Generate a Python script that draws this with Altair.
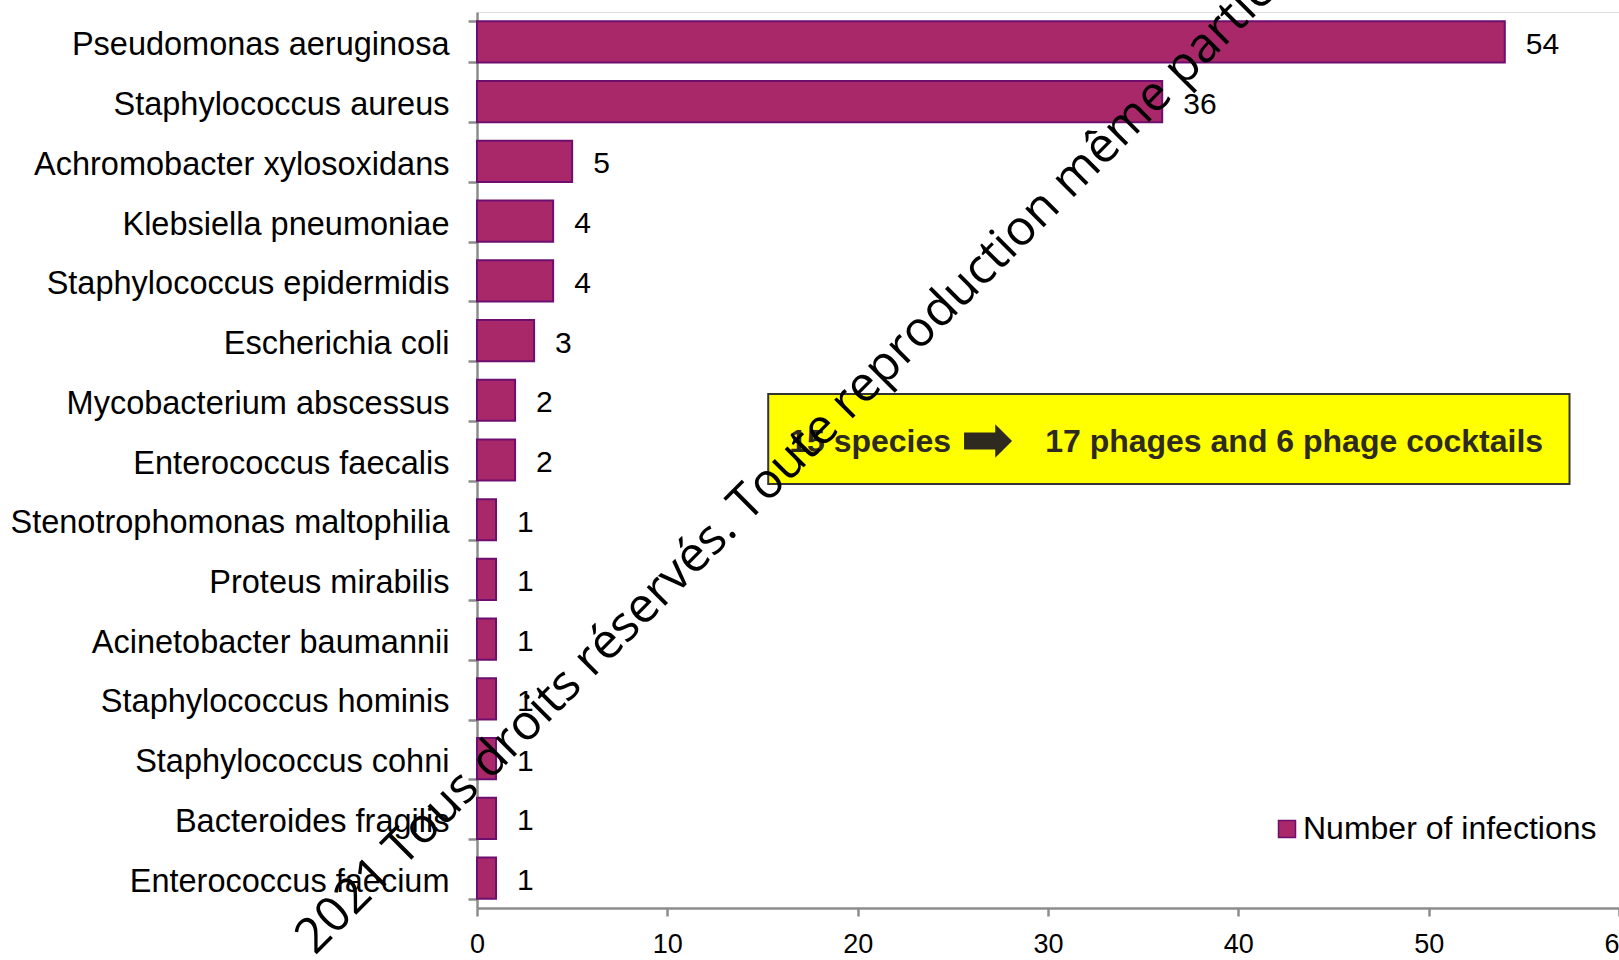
import altair as alt
import pandas as pd

species = ["Pseudomonas aeruginosa", "Staphylococcus aureus", "Achromobacter xylosoxidans",
           "Klebsiella pneumoniae", "Staphylococcus epidermidis", "Escherichia coli",
           "Mycobacterium abscessus", "Enterococcus faecalis", "Stenotrophomonas maltophilia",
           "Proteus mirabilis", "Acinetobacter baumannii", "Staphylococcus hominis",
           "Staphylococcus cohni", "Bacteroides fragilis", "Enterococcus faecium"]
infections = [54, 36, 5, 4, 4, 3, 2, 2, 1, 1, 1, 1, 1, 1, 1]
series_name = "Number of infections"
x_ticks = [0, 10, 20, 30, 40, 50, 60]

box_text_left = "15 species"
box_text_right = "17 phages and 6 phage cocktails"
watermark = "2021 Tous droits réservés. Toute reproduction même partielle interdite"

df = pd.DataFrame({"species": species, "infections": infections,
                   "series": [series_name] * len(species)})

FONT = "Liberation Sans"
GREY = "#8C8C8C"

y_enc = alt.Y("species:N", sort=species,
              scale=alt.Scale(paddingInner=0.31, paddingOuter=0.155),
              axis=alt.Axis(title=None, labelFontSize=32.5, labelFont=FONT, labelColor="black",
                            tickBand="extent", tickSize=9, tickWidth=2.5, tickColor=GREY,
                            domainColor=GREY, domainWidth=2.5, labelPadding=19,
                            labelOffset=3, labelLimit=0, grid=False))
x_enc = alt.X("infections:Q", scale=alt.Scale(domain=[0, 60], nice=False),
              axis=alt.Axis(title=None, values=x_ticks, labelFontSize=27, labelFont=FONT,
                            labelColor="black", tickSize=8, tickWidth=2.5, tickColor=GREY,
                            domainColor=GREY, domainWidth=2.5, labelPadding=15,
                            labelFlush=False, labelOverlap=False, grid=False))

base = alt.Chart(df)

bars = base.mark_bar(stroke="#6E0E6E", strokeWidth=2).encode(
    x=x_enc, y=y_enc,
    color=alt.Color("series:N", scale=alt.Scale(range=["#A8286A"]),
                    legend=alt.Legend(title=None, orient="none", legendX=794, legendY=801,
                                      symbolType="square", symbolSize=289,
                                      symbolStrokeColor="#6E0E6E", symbolStrokeWidth=1.5,
                                      labelFontSize=32, labelFont=FONT, labelColor="black",
                                      labelOffset=0, padding=0, labelLimit=0))
)

values = base.mark_text(align="left", baseline="middle", dx=21, dy=3, fontSize=30,
                        font=FONT, color="black").encode(
    x="infections:Q", y=alt.Y("species:N", sort=species), text="infections:Q")

box_df = pd.DataFrame({"x1": [15.3], "x2": [57.4]})
box = alt.Chart(box_df).mark_rect(fill="#FFFF00", stroke="#333333", strokeWidth=2).encode(
    x="x1:Q", x2="x2:Q", y=alt.value(382), y2=alt.value(472))

txt_df = pd.DataFrame({"x": [16.4, 29.85], "label": [box_text_left, box_text_right]})
box_txt = alt.Chart(txt_df).mark_text(align="left", baseline="alphabetic", fontSize=32,
                                      font=FONT, fontWeight="bold", color="#2E2A20").encode(
    x="x:Q", y=alt.value(440), text="label:N")

arrow_df = pd.DataFrame({"x": [26.85]})
arrow = alt.Chart(arrow_df).mark_point(
    shape="M-1,-0.35 L0.3,-0.35 L0.3,-0.7 L1,0 L0.3,0.7 L0.3,0.35 L-1,0.35 Z",
    size=2304, filled=True, fill="#2E2A20", opacity=1, strokeWidth=0).encode(
    x="x:Q", y=alt.value(429))

wm_df = pd.DataFrame({"t": [watermark]})
wm = alt.Chart(wm_df).mark_text(align="left", baseline="alphabetic", angle=315, fontSize=49,
                                font="Open Sans", color="black").encode(
    x=alt.value(-162), y=alt.value(944), text="t:N")

chart = alt.layer(bars, values, box, box_txt, arrow, wm).properties(
    width=1142, height=896,
    autosize=alt.AutoSizeParams(type="none"),
    padding={"left": 477, "top": 12, "right": 0, "bottom": 52},
).configure_view(stroke=None).configure(background="white")

chart.save("out.html", embed_options={"renderer": "svg", "actions": False})
